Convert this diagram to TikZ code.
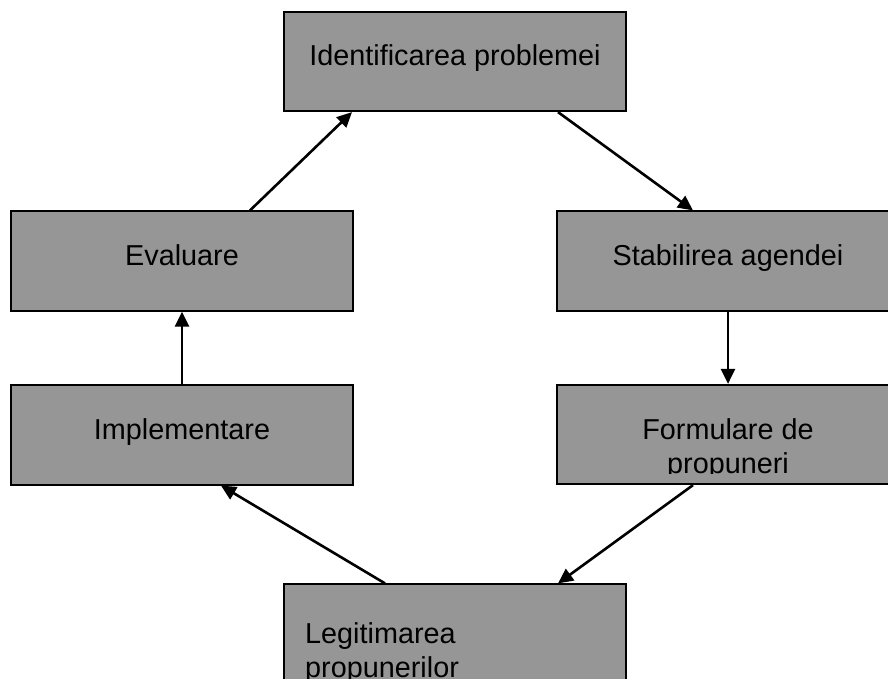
\documentclass[tikz,border=0pt]{standalone}
\usepackage{fontspec}
\setmainfont{Liberation Sans}
\usetikzlibrary{arrows.meta}
\definecolor{boxgray}{RGB}{150,150,150}
\begin{document}
\begin{tikzpicture}[x=1pt, y=-1pt, font=\fontsize{28.8}{34}\selectfont]
       \tikzstyle{procbox}=[draw, line width=1.7pt, fill=boxgray, minimum width=342pt, minimum height=99.5pt, inner sep=0pt, text height=20pt, text depth=12pt]
       \tikzstyle{boxtext}=[inner sep=0pt]
       \tikzstyle{flow}=[draw, line width=2.6pt, -{Triangle[length=15pt, width=14pt]}]
       \useasboundingbox (0,0) rectangle (888,679);
       % the cycle of boxes
       \node[procbox] (ident) at (455,61.5) {Identificarea problemei};
       \node[procbox] (stab) at (728,261) {Stabilirea agendei};
       \node[procbox] (form) at (728,434.5) {};
       \node[procbox] (legit) at (455,634) {};
       \node[procbox] (impl) at (182,435) {Implementare};
       \node[procbox] (eval) at (182,261) {Evaluare};
       % texts cut off at the bottom
       \begin{scope}
        \clip (557,385) rectangle (888,473);
        \node[boxtext, align=center, anchor=base] (formtxt) at (728,473) {Formulare de\\propuneri};
       \end{scope}
       \node[boxtext, align=left, anchor=base west] (legittxt) at (305,677) {Legitimarea\\propunerilor};
       % arrows
       \draw[flow] ([xshift=103pt]ident.south) -- ([xshift=-35pt]stab.north);
       \draw[flow] (stab.south) -- (form.north);
       \draw[flow] ([xshift=-35pt]form.south) -- ([xshift=103pt]legit.north);
       \draw[flow] ([xshift=-70pt]legit.north) -- ([xshift=39pt]impl.south);
       \draw[flow] (impl.north) -- (eval.south);
       \draw[flow] ([xshift=68pt]eval.north) -- ([xshift=-103pt]ident.south);
\end{tikzpicture}
\end{document}
